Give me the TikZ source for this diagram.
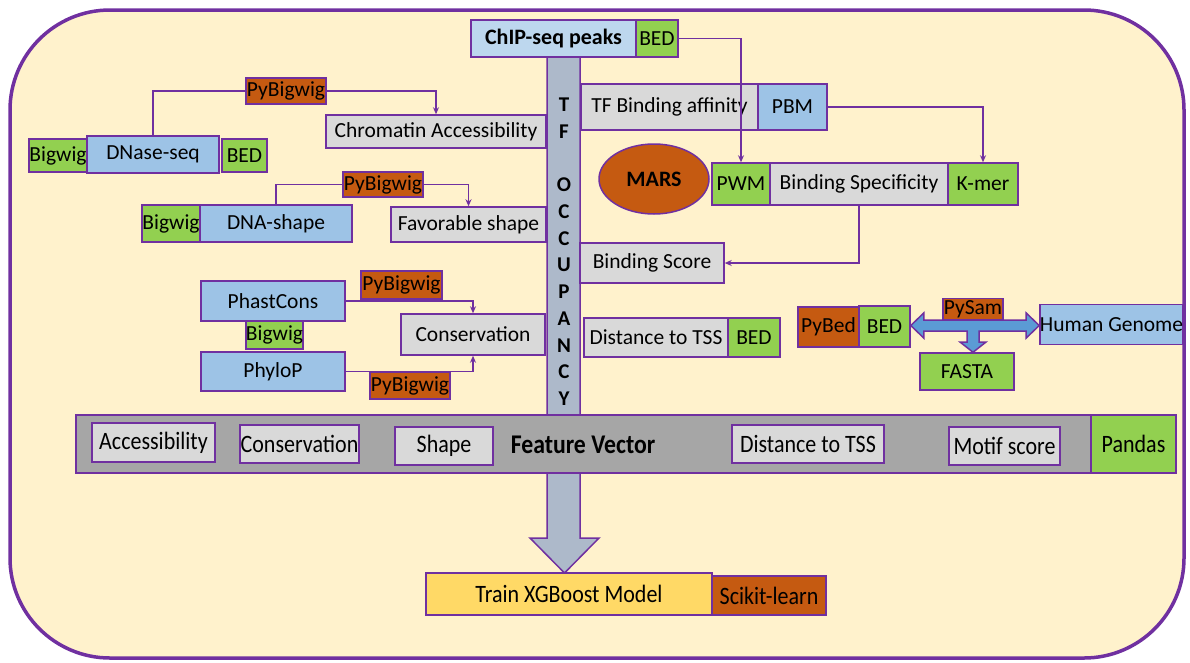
\documentclass[tikz,border=0pt]{standalone}
\usepackage{fontspec}
\setmainfont{Carlito}
\newfontfamily\condfont[FakeStretch=0.88]{Carlito}
\usetikzlibrary{arrows.meta,shapes.geometric,calc}

\definecolor{cream}{HTML}{FFF2CC}
\definecolor{purp}{HTML}{7030A0}
\definecolor{boxgray}{HTML}{D9D9D9}
\definecolor{boxblue}{HTML}{9DC3E6}
\definecolor{paleblue}{HTML}{BDD7EE}
\definecolor{boxgreen}{HTML}{92D050}
\definecolor{rust}{HTML}{C55A11}
\definecolor{slate}{HTML}{ADB9CA}
\definecolor{midgray}{HTML}{A6A6A6}
\definecolor{gold}{HTML}{FFD966}
\definecolor{arrowblue}{HTML}{5B9BD5}

\begin{document}
\begin{tikzpicture}[x=1pt,y=-1pt,
  box/.style={draw=purp, line width=1.5pt, inner sep=0pt, text=black,
    font=\fontsize{21.5}{24}\selectfont},
  gbox/.style={box, fill=boxgray},
  bbox/.style={box, fill=boxblue},
  grbox/.style={box, fill=boxgreen},
  obox/.style={box, fill=rust},
  sz/.style 2 args={minimum width=#1pt, minimum height=#2pt},
  cond/.style={font=\condfont\fontsize{25}{28}\selectfont},
  letter/.style={font=\bfseries\fontsize{21}{24}\selectfont, inner sep=0pt},
  conn/.style={draw=purp, line width=1.3pt, -{Stealth[length=7pt,width=6pt]}},
  link/.style={draw=purp, line width=1.3pt},
  blockarrow/.style={fill=arrowblue, draw=purp, line width=1.5pt, line join=miter}
]
\useasboundingbox (0,0) rectangle (1190,662);

% frame
\draw[draw=purp, line width=3.5pt, fill=cream, rounded corners=100pt]
  (10,10) rectangle (1184,658);

% TF occupancy column, continuing as the arrow down to the model
\draw[fill=slate, draw=purp, line width=1.5pt]
  (547,57) -- (580,57) -- (580,538) -- (599,538) -- (564.5,573)
  -- (530,538) -- (547,538) -- cycle;
\foreach \l/\i in {T/0,F/1,O/3,C/4,C/5,U/6,P/7,A/8,N/9,C/10,Y/11}
  \node[letter] (occ\i) at (564, 105+26.7*\i) {\l};

% ChIP-seq input
\node[box, fill=paleblue, sz={165}{37}, font=\bfseries\fontsize{22}{24}\selectfont]
  (chip) at (553.5,38.5) {ChIP-seq peaks};
\node[grbox, sz={42}{37}] (chipbed) at (657,38.5) {BED};

% accessibility
\node[obox, sz={80}{26}] (pbw1) at (286,91) {PyBigwig};
\node[gbox, sz={220}{33}] (chrom) at (436,131.5) {Chromatin Accessibility};
\node[grbox, sz={58}{33}] (bw1) at (58,155.5) {Bigwig};
\node[bbox, sz={132}{37}] (dnase) at (153,154.5) {DNase-seq};
\node[grbox, sz={45}{33}] (bed1) at (244.5,155.5) {BED};

% shape
\node[obox, sz={80}{25}] (pbw2) at (383,184.5) {PyBigwig};
\node[bbox, sz={152}{37}] (dnashape) at (276,223.5) {DNA-shape};
\node[grbox, sz={58}{37}] (bw2) at (171,223.5) {Bigwig};
\node[gbox, sz={155}{35}] (fav) at (468.5,224.5) {Favorable shape};

% conservation
\node[bbox, sz={144}{40}] (phast) at (273,301) {PhastCons};
\node[obox, sz={81}{28}] (pbw3) at (401.5,285) {PyBigwig};
\node[grbox, sz={57}{28}] (bw3) at (274.5,335) {Bigwig};
\node[bbox, sz={144}{39}] (phylo) at (273,371.5) {PhyloP};
\node[obox, sz={80}{27}] (pbw4) at (410,385.5) {PyBigwig};
\node[gbox, sz={144}{41}] (cons) at (473,334.5) {Conservation};

% binding
\node[gbox, sz={177}{46}] (tfba) at (669.5,107) {TF Binding affinity};
\node[bbox, sz={69}{46}] (pbm) at (792.5,107) {PBM};
\node[ellipse, draw=purp, line width=1.5pt, fill=rust, minimum width=110pt,
  minimum height=70pt, inner sep=0pt, font=\bfseries\fontsize{22}{24}\selectfont]
  (mars) at (654,179) {MARS};
\node[grbox, sz={58}{42}] (pwm) at (741,184) {PWM};
\node[gbox, sz={178}{42}] (bspec) at (859,184) {Binding Specificity};
\node[grbox, sz={70}{42}] (kmer) at (983,184) {K-mer};
\node[gbox, sz={144}{40}] (bscore) at (652,263) {Binding Score};
\node[gbox, sz={144}{39}] (dtss) at (656,337.5) {Distance to TSS};
\node[grbox, sz={52}{39}] (bed2) at (754,337.5) {BED};

% genome sequence
\node[obox, sz={61}{40}] (pybed) at (828.5,327) {PyBed};
\node[grbox, sz={51}{41}] (bed3) at (884.5,326.5) {BED};
\node[bbox, sz={141}{40}] (hg) at (1111.5,324.5) {Human Genome};
\node[grbox, sz={94}{37}] (fasta) at (967,371.5) {FASTA};
\coordinate (pysamfoot) at (973,319.5);
\path[blockarrow] let \p1=(bed3.east), \p2=(hg.west), \p3=(fasta.north), \p4=(pysamfoot) in
  (\x1,325.5) -- (\x1+13pt,313) -- (\x1+13pt,320) -- (\x2-13pt,320) -- (\x2-13pt,313)
  -- (\x2,325.5) -- (\x2-13pt,338) -- (\x2-13pt,331) -- (\x4+6pt,331) -- (\x4+6pt,342)
  -- (\x4+13pt,342) -- (\x4,\y3) -- (\x4-13pt,342) -- (\x4-6pt,342) -- (\x4-6pt,331)
  -- (\x1+13pt,331) -- (\x1+13pt,338) -- cycle;
\node[obox, sz={60}{21}] (pysam) at (973,309) {PySam};

% feature vector
\node[box, fill=midgray, sz={1015}{58}] (fv) at (583.5,444) {};
\node[grbox, sz={85}{58}, cond] (pandas) at (1133.5,444) {Pandas};
\node[inner sep=0pt, font=\condfont\bfseries\fontsize{27}{30}\selectfont] (fvlabel) at (583,445) {Feature Vector};
\node[gbox, sz={123}{39}, cond] (acc) at (153.5,442.5) {Accessibility};
\node[gbox, sz={119}{38}, cond] (consv) at (299.5,444) {Conservation};
\node[gbox, sz={98}{38}, cond] (shape) at (444,446) {Shape};
\node[gbox, sz={152}{38}, cond] (dist) at (808,444) {Distance to TSS};
\node[gbox, sz={111}{38}, cond] (motif) at (1004.5,446) {Motif score};

% model
\node[box, fill=gold, sz={286}{42}, cond] (train) at (569,594) {Train XGBoost Model};
\node[obox, sz={114}{39}, cond] (scikit) at (769,595.5) {Scikit-learn};

% connectors
\draw[link] (dnase.north) |- (pbw1.west);
\draw[conn] (pbw1.east) -| (chrom.north);
\draw[link] (dnashape.north) |- (pbw2.west);
\draw[conn] (pbw2.east) -| (fav.north);
\draw[conn] (phast.east) -| (cons.north);
\draw[conn] (phylo.east) -| (cons.south);
\draw[conn] (chipbed.east) -| (pwm.north);
\draw[conn] (pbm.east) -| (kmer.north);
\draw[conn] (bspec.south) |- (bscore.east);
\end{tikzpicture}
\end{document}
